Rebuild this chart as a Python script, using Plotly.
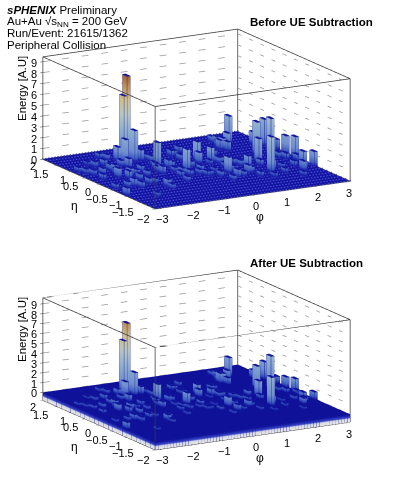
import numpy as np
import plotly.graph_objects as go

N_PHI, N_ETA = 64, 24
PHI_RANGE = (-3.1416, 3.1416)
ETA_RANGE = (-2.0, 2.0)
phi_ticks = [-3, -2, -1, 0, 1, 2, 3]
eta_ticks = [-2, -1.5, -1, -0.5, 0, 0.5, 1, 1.5, 2]
energy_ticks = [0, 1, 2, 3, 4, 5, 6, 7, 8, 9]

before_phi_bin = [20,19,21,18,17,14,11,7,10,0,12,12,23,10,15,16,24,29,37,40,38,46,55,53,55,51,62,58,49,63,63,61,58,63,60,60,50,49,36,43,51,33,33,21,26,15,26,35,42,38,43,30,38,50,51,60,62,54,63,44,51,7,8,6,10,17,25,12,8,
                  34,37,34,23,21,27,25,24,23,27,32,31,44,41,40,44,40,45,40,17,14,15,32,50,53,32,34,35,49,50,59,62,58,52,44,47,60,55,2,3,3,9,5,1,14,16,22,7,25,15,8,1]
before_eta_bin = [19,19,18,18,19,21,18,19,12,6,13,11,18,16,17,16,15,12,15,14,9,10,20,19,14,11,17,13,7,13,11,8,6,7,14,18,18,18,14,16,20,16,18,12,14,7,11,10,13,7,8,10,13,17,21,11,10,8,15,8,8,9,8,15,15,14,17,9,13,
                  18,19,16,15,13,14,12,10,8,10,11,9,16,13,11,12,9,11,7,8,9,6,13,19,21,9,8,6,12,10,12,9,8,6,6,5,7,4,16,15,13,14,9,9,13,12,14,4,18,20,18,17]
before_energy = [7.8,6.0,2.9,2.2,1.35,0.5,0.6,0.4,0.75,0.75,0.75,0.6,1.05,0.6,0.6,0.9,2.25,2.0,1.8,1.35,1.5,1.1,2.5,1.2,3.1,2.3,2.5,3.5,3.3,1.7,2.0,1.3,0.9,1.4,1.5,1.2,1.05,0.9,1.05,0.6,0.75,0.6,0.6,0.75,0.75,0.75,0.6,0.45,0.6,0.75,0.75,0.5,0.45,0.9,0.6,0.6,0.6,0.45,1.0,0.6,0.9,0.75,0.6,0.6,0.75,0.6,0.6,0.6,0.9,
                 0.55,0.6,0.55,0.5,0.55,0.6,0.5,0.55,0.5,0.55,0.6,0.5,0.55,0.6,0.5,0.55,0.6,0.55,0.5,0.55,0.5,0.5,0.6,0.55,0.5,0.5,0.55,0.5,0.65,0.6,0.55,0.5,0.55,0.5,0.5,0.45,0.55,0.45,0.5,0.55,0.55,0.6,0.55,0.5,0.55,0.55,0.6,0.45,0.55,0.55,0.55,0.5]

after_phi_bin = before_phi_bin
after_eta_bin = before_eta_bin
after_energy = [7.15,5.4,2.3,1.5,0.6,0.4,0.5,0.3,0.55,0.7,0.6,0.5,0.8,0.45,0.45,0.7,1.6,1.15,1.0,0.65,0.95,0.4,1.9,0.9,2.3,1.6,1.8,3.4,2.9,1.05,1.3,0.65,0.6,0.8,1.0,0.8,0.95,1.0,0.75,0.45,0.6,0.4,0.45,0.6,0.55,0.6,0.4,0.3,0.45,0.6,0.6,0.35,0.3,0.7,0.45,0.45,0.4,0.3,0.7,0.4,0.7,0.55,0.45,0.45,0.6,0.45,0.45,0.45,0.7,
                0.4,0.45,0.4,0.35,0.4,0.45,0.35,0.4,0.35,0.4,0.45,0.35,0.4,0.45,0.35,0.4,0.45,0.4,0.35,0.4,0.35,0.35,0.45,0.4,0.35,0.35,0.4,0.35,0.5,0.45,0.4,0.35,0.4,0.35,0.35,0.3,0.4,0.3,0.35,0.4,0.4,0.45,0.4,0.35,0.4,0.4,0.45,0.3,0.4,0.4,0.4,0.35]

before_colors = [[0,"#1616b4"],[0.015,"#2434c4"],[0.04,"#4a6cd8"],[0.1,"#7c9ee4"],[0.3,"#a2c4e6"],[0.45,"#cddcd8"],[0.6,"#e6d49c"],[0.72,"#d4a25a"],[0.85,"#aa6430"],[1,"#84401c"]]
after_colors = [[0,"#ffffff"],[0.03,"#f0f2ff"],[0.045,"#4050e0"],[0.077,"#0c0ca4"],[0.09,"#2434c4"],[0.115,"#4a6cd8"],[0.175,"#7c9ee4"],[0.36,"#a2c4e6"],[0.5,"#cddcd8"],[0.64,"#e6d49c"],[0.76,"#d4a25a"],[0.88,"#aa6430"],[1,"#84401c"]]

LABEL_FONT = dict(family="Liberation Sans", size=11, color="black")
MINUS = "\u2212"


def fmt(v):
    return str(v).replace("-", MINUS)


def lego(phi_bin, eta_bin, energy, zbase, zmax, colors):
    grid = np.zeros((N_PHI, N_ETA))
    grid[phi_bin, eta_bin] = energy
    xe = np.linspace(*PHI_RANGE, N_PHI + 1)
    ye = np.linspace(*ETA_RANGE, N_ETA + 1)
    X, Y, Z, C, I, J, K = [], [], [], [], [], [], []
    lx, ly, lz = [], [], []
    for a in range(N_PHI):
        for b in range(N_ETA):
            h = grid[a, b]
            x0, x1, y0, y1 = xe[a], xe[a + 1], ye[b], ye[b + 1]
            n = len(X)
            X += [x0, x1, x1, x0]; Y += [y0, y0, y1, y1]; Z += [h] * 4; C += [0.0] * 4
            I += [n, n]; J += [n + 1, n + 2]; K += [n + 2, n + 3]
            if h > zbase:
                n = len(X)
                X += [x0, x1, x1, x0] * 2; Y += [y0, y0, y1, y1] * 2
                Z += [zbase] * 4 + [h] * 4; C += [zbase] * 4 + [h] * 4
                for s in range(4):
                    t = (s + 1) % 4
                    I += [n + s, n + s]; J += [n + t, n + t + 4]; K += [n + t + 4, n + s + 4]
            if h > 0:
                lx += [x0, x1, x1, x0, x0, None, x0, x0, None, x1, x1, None, x0, x0, None, x1, x1, None]
                ly += [y0, y0, y1, y1, y0, None, y0, y0, None, y0, y0, None, y1, y1, None, y1, y1, None]
                lz += [h] * 5 + [None, 0, h, None, 0, h, None, 0, h, None, 0, h, None]
            if zbase < 0 and (a == 0 or b == 0):
                lx += [x0, x0, None, x1, x1, None]
                ly += [y0, y0, None, y0 if b == 0 else y1, y0 if b == 0 else y1, None]
                lz += [zbase, 0, None, zbase, 0, None]
    mesh = go.Mesh3d(x=X, y=Y, z=Z, i=I, j=J, k=K, intensity=C, colorscale=colors,
                     cmin=zbase, cmax=zmax, showscale=False, flatshading=True,
                     lighting=dict(ambient=0.9, diffuse=0.15, specular=0, roughness=1, fresnel=0),
                     lightposition=dict(x=-2000, y=-6000, z=3000), hoverinfo="skip")
    edges = go.Scatter3d(x=lx, y=ly, z=lz, mode="lines", line=dict(color="#10189c", width=1),
                         showlegend=False, hoverinfo="skip")
    return mesh, edges


def floor_dots():
    xe = np.linspace(*PHI_RANGE, N_PHI + 1)
    ye = np.linspace(*ETA_RANGE, N_ETA + 1)
    gx, gy = np.meshgrid(xe, ye)
    return go.Scatter3d(x=gx.ravel(), y=gy.ravel(), z=np.full(gx.size, 0.03), mode="markers",
                        marker=dict(size=1, color="#4a52d4", line=dict(width=0)),
                        showlegend=False, hoverinfo="skip")


def grid_lines(ticks):
    gx, gy, gz = [], [], []
    for v in ticks:
        gx += [PHI_RANGE[0], PHI_RANGE[1], PHI_RANGE[1], None]
        gy += [ETA_RANGE[1], ETA_RANGE[1], ETA_RANGE[0], None]
        gz += [v, v, v, None]
    return go.Scatter3d(x=gx, y=gy, z=gz, mode="lines", line=dict(color="#999999", width=1.5, dash="dot"),
                        showlegend=False, hoverinfo="skip")


def frame(zrange):
    x0, x1 = PHI_RANGE
    y0, y1 = ETA_RANGE
    z0, z1 = zrange
    fx, fy, fz = [], [], []
    for z in (z0, z1):
        fx += [x0, x1, x1, x0, x0, None]; fy += [y0, y0, y1, y1, y0, None]; fz += [z, z, z, z, z, None]
    for cx, cy in ((x0, y0), (x1, y0), (x0, y1), (x1, y1)):
        fx += [cx, cx, None]; fy += [cy, cy, None]; fz += [z0, z1, None]
    return go.Scatter3d(x=fx, y=fy, z=fz, mode="lines", line=dict(color="#3a3a3a", width=1.5),
                        showlegend=False, hoverinfo="skip")


def tick_annotations(zrange):
    out = []
    eta_shift = {2: (-10, 7), 1.5: (-16, 9), 1: (-8, 8.5), 0.5: (-15, 8), 0: (-11, 8),
                 -0.5: (-16, 9), -1: (-12, 8.5), -1.5: (-18, 9), -2: (-12, 10)}
    base = dict(showarrow=False, font=LABEL_FONT, xanchor="center", yanchor="middle")
    left = PHI_RANGE[0] + 0.001
    back = ETA_RANGE[1] - 0.001
    near = ETA_RANGE[0] + 0.001
    low = zrange[0] + 0.001
    for v in phi_ticks:
        out.append(dict(base, x=v, y=near, z=low, text=fmt(v), xshift=3, yshift=-11))
    for v in eta_ticks:
        dx, dy = eta_shift[v]
        out.append(dict(base, x=left, y=min(max(v, near), back), z=low, text=fmt(v), xshift=dx, yshift=-dy))
    for v in energy_ticks:
        out.append(dict(base, x=left, y=back, z=v + 0.001, text=fmt(v), xshift=-9, yshift=-1))
    return out


def scene(top, bottom, zrange):
    ax = dict(showgrid=False, zeroline=False, showbackground=False, showline=True, linecolor="#3a3a3a",
              ticks="outside", ticklen=3, tickcolor="#333333", showticklabels=False, showspikes=False,
              title_text="")
    k = 2.0
    s = 1.884
    return dict(
        domain=dict(x=[0, 1], y=[1 - bottom / 482, 1 - top / 482]),
        xaxis=dict(ax, range=list(PHI_RANGE), tickvals=phi_ticks),
        yaxis=dict(ax, range=list(ETA_RANGE), tickvals=eta_ticks),
        zaxis=dict(ax, range=zrange, tickvals=energy_ticks),
        aspectmode="manual", aspectratio=dict(x=1 * s, y=1.015 * s, z=0.472 * s),
        camera=dict(eye=dict(x=-0.478 * k, y=-0.842 * k, z=0.251 * k), up=dict(x=0, y=0, z=1),
                    center=dict(x=0, y=0, z=0), projection=dict(type="orthographic")),
        bgcolor="white",
        annotations=tick_annotations(zrange),
    )


fig = go.Figure()
for idx, (p, e, v, zb, zt, cs) in enumerate([
    (before_phi_bin, before_eta_bin, before_energy, 0.0, 9.45, before_colors),
    (after_phi_bin, after_eta_bin, after_energy, -0.8, 9.6, after_colors),
]):
    m, l = lego(p, e, v, zb, zt, cs)
    traces = [grid_lines(energy_ticks), m, l, frame([zb, zt])]
    if idx == 0:
        traces.append(floor_dots())
    name = "scene" if idx == 0 else "scene2"
    for t in traces:
        t.scene = name
        fig.add_trace(t)

text_font = dict(family="Liberation Sans", size=11.5, color="black")
header = ["<b><i>sPHENIX</i></b> Preliminary", "Au+Au √s<sub>NN</sub> = 200 GeV", "Run/Event: 21615/1362", "Peripheral Collision"]
anns = []
for line, y in zip(header, [10, 22, 33, 45]):
    anns.append(dict(text=line, x=5, y=y, font=text_font))
for title, y in [("Before UE Subtraction", 22), ("After UE Subtraction", 263)]:
    anns.append(dict(text=f"<b>{title}</b>", x=248, y=y, font=text_font))
for off in (0, 241):
    anns.append(dict(text="Energy [A.U]", x=22, y=89 + off, textangle=-90, xanchor="center", font=text_font))
    anns.append(dict(text="φ", x=260, y=217 + off, xanchor="center", font=dict(text_font, size=12)))
    anns.append(dict(text="η", x=74, y=206 + off, xanchor="center", font=dict(text_font, size=12)))
for a in anns:
    a["x"] = a["x"] / 393
    a["y"] = 1 - a["y"] / 482
    a.update(xref="paper", yref="paper", yanchor="middle", showarrow=False)
    a.setdefault("xanchor", "left")

fig.update_layout(width=393, height=482, margin=dict(l=0, r=0, t=0, b=0), paper_bgcolor="white",
                  showlegend=False, annotations=anns,
                  scene=scene(0, 238, [0, 9.45]), scene2=scene(241, 479, [-0.8, 9.6]))
fig.write_html("out.html", config=dict(displayModeBar=False),
               post_script="document.body.style.margin='0';document.documentElement.style.overflow='hidden';")
